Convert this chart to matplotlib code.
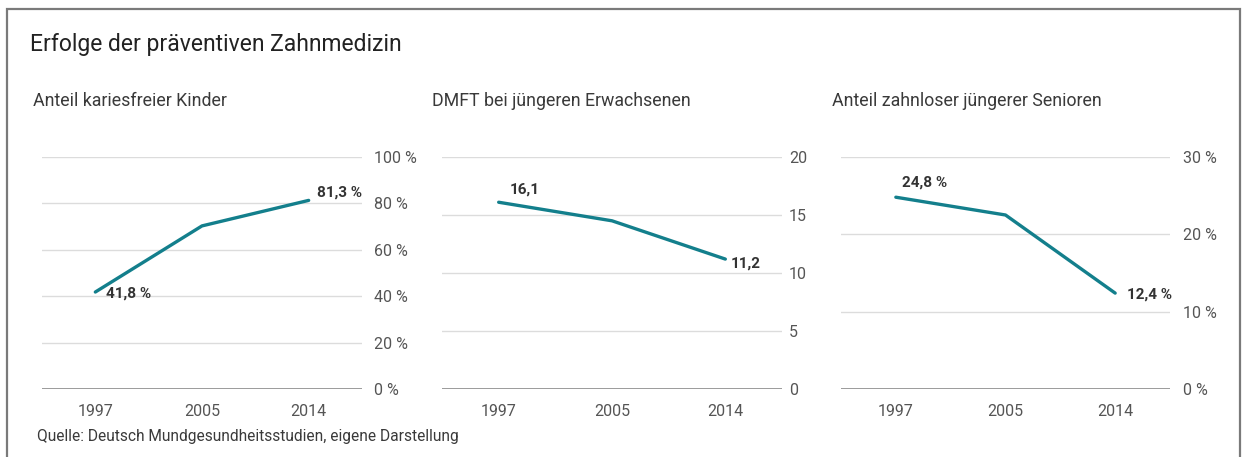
import matplotlib
matplotlib.use("Agg")
import matplotlib.pyplot as plt
from matplotlib.patches import Rectangle

plt.rcParams['font.family'] = ['Roboto', 'DejaVu Sans']

years = ["1997", "2005", "2014"]
kariesfrei = [41.8, 70.3, 81.3]
dmft = [16.1, 14.5, 11.2]
zahnlos = [24.8, 22.5, 12.4]

titles = ["Anteil kariesfreier Kinder", "DMFT bei jüngeren Erwachsenen",
          "Anteil zahnloser jüngerer Senioren"]
ticks_1 = [0, 20, 40, 60, 80, 100]
ticks_2 = [0, 5, 10, 15, 20]
ticks_3 = [0, 10, 20, 30]

LINE = "#137f8c"
GRID = "#dcdcdc"
TXT = "#3a3a3a"

fig = plt.figure(figsize=(12.43, 4.57), dpi=100)
fig.patches.append(Rectangle((7 / 1243, -0.1), 1233 / 1243, 1.1 - 9 / 457,
                             transform=fig.transFigure, fill=False,
                             edgecolor="#7a7a7a", linewidth=1.6))

fig.text(30 / 1243, 1 - 45 / 457, "Erfolge der präventiven Zahnmedizin",
         fontsize=16.5, color="#222222", va="center", ha="left")
fig.text(37 / 1243, 1 - 437 / 457,
         "Quelle: Deutsch Mundgesundheitsstudien, eigene Darstellung",
         fontsize=11.2, color=TXT, va="center", ha="left")

# left px, width px, subtitle x, values, ticks, percent?, y pad, labels
panels = [
    (42, 320, 33, kariesfrei, ticks_1, True, 9,
     [(0, "41,8 %", (0.1, -0.8)), (2, "81,3 %", (0.08, 3.2))]),
    (442, 340, 432, dmft, ticks_2, False, 5,
     [(0, "16,1", (0.1, 1.05)), (2, "11,2", (0.05, -0.4))]),
    (841, 329, 832, zahnlos, ticks_3, True, 9,
     [(0, "24,8 %", (0.06, 1.95)), (2, "12,4 %", (0.11, -0.25))]),
]

bottom = 1 - 389 / 457
height = (389 - 157) / 457

for i, (x0, w, tx, vals, ticks, pct, ypad, labels) in enumerate(panels):
    ax = fig.add_axes([x0 / 1243, bottom, w / 1243, height])
    fig.text(tx / 1243, 1 - 101 / 457, titles[i], fontsize=12.8,
             color=TXT, va="center", ha="left")
    xs = range(len(years))
    ax.plot(xs, vals, color=LINE, linewidth=2.4, solid_capstyle="round", zorder=3)
    ax.set_xlim(-0.5, 2.5)
    ax.set_ylim(0, ticks[-1])
    for t in ticks[1:]:
        ax.axhline(t, color=GRID, linewidth=1, zorder=1)
    ax.axhline(0, color="#8a8a8a", linewidth=1.2, zorder=2)
    for s in ax.spines.values():
        s.set_visible(False)
    ax.set_xticks(list(xs))
    ax.set_xticklabels(years)
    ax.set_yticks(ticks)
    if pct:
        ax.set_yticklabels([f"{t} %" for t in ticks])
    else:
        ax.set_yticklabels([str(t) for t in ticks])
    ax.yaxis.tick_right()
    ax.tick_params(axis="both", length=0, labelsize=11.5, labelcolor="#555555")
    ax.tick_params(axis="y", pad=ypad)
    ax.tick_params(axis="x", pad=11)
    for idx, txt, (dx, dy) in labels:
        ax.text(idx + dx, vals[idx] + dy, txt, fontsize=11, fontweight="bold",
                color="#333333", ha="left", va="center")

fig.savefig("out.png", dpi=100, facecolor="white")
